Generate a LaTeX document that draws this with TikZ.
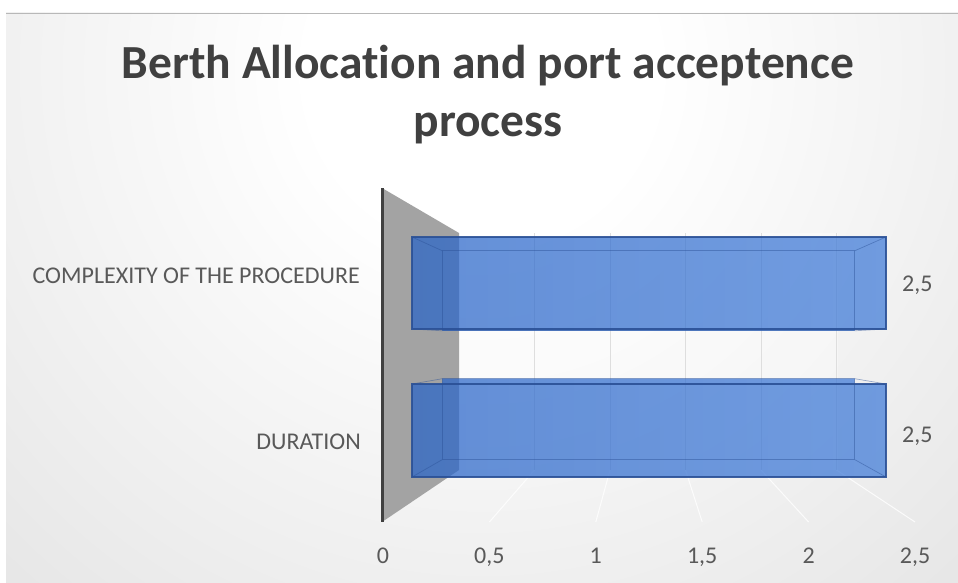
\documentclass[tikz,border=0pt]{standalone}
\usepackage{fontspec}
\setmainfont{Carlito}[Ligatures=NoCommon]
\usetikzlibrary{calc}
\definecolor{txt}{HTML}{595959}
\definecolor{titletxt}{HTML}{404040}
\definecolor{barL}{RGB}{40,100,200}
\definecolor{barR}{RGB}{62,122,216}
\definecolor{baredge}{RGB}{42,80,150}
\definecolor{wallgray}{RGB}{163,163,163}
\definecolor{bgedge}{RGB}{196,196,196}
\pgfdeclareradialshading{bgshade}{\pgfpoint{0bp}{0bp}}{color(0bp)=(white); color(6bp)=(white); color(50bp)=(bgedge)}
\tikzset{
  lbl/.style={text=txt, font=\fontsize{24}{28}\selectfont, inner sep=0pt},
  ttl/.style={text=titletxt, font=\fontsize{47.5}{56}\selectfont\bfseries, inner sep=0pt, anchor=base},
  barfill/.style={left color=barL, right color=barR, fill opacity=0.72, draw=none},
  frontedge/.style={draw=baredge, line width=1.3pt, draw opacity=0.9},
  backedge/.style={draw=baredge, line width=0.7pt, draw opacity=0.45},
  gridback/.style={draw=black!13, line width=0.8pt},
  gridfloor/.style={draw=white, line width=1pt, draw opacity=0.8}
}
\newcommand{\mybar}[8]{%
  % #1..#4 front x1,y1,x2,y2 ; #5..#8 back x1,y1,x2,y2
  \shade[barfill] (#1,#2) rectangle (#3,#4) (#5,#6) rectangle (#7,#8);
  \draw[backedge] (#5,#6) rectangle (#7,#8);
  \draw[backedge] (#1,#2) -- (#5,#6) (#3,#2) -- (#7,#6) (#1,#4) -- (#5,#8) (#3,#4) -- (#7,#8);
  \draw[frontedge] (#1,#2) rectangle (#3,#4);
}
\begin{document}
\begin{tikzpicture}[x=1pt,y=-1pt]
\useasboundingbox (0,0) rectangle (958,583);
\fill[white] (0,0) rectangle (958,583);
\begin{scope}
  \clip (6,13) rectangle (958,583);
  \shade[shading=bgshade] (482,70) circle (720pt);
\end{scope}
\draw[black!28, line width=1.2pt] (6,13.6) -- (958,13.6);

% title
\node[ttl] (t1) at (488,79) {Berth Allocation and port acceptence};
\node[ttl] (t2) at (488,137) {process};

% back wall
\fill[white, fill opacity=0.35] (459,233) rectangle (837.5,470);
\foreach \v in {0.5,1,1.5,2,2.5}{
  \draw[gridback] ({459+151*\v},233) -- ({459+151*\v},470);
}
% floor grid lines
\foreach \v in {0.5,1,1.5,2,2.5}{
  \draw[gridfloor] ({459+151*\v},470) -- ({383+212.8*\v},522);
}

% side wall
\fill[wallgray] (382,188) -- (459,233) -- (459,470) -- (382,522) -- cycle;
\coordinate (axtop) at (382,188);
\coordinate (axbot) at (382,522);
\draw[black!75, line width=3pt] (axtop) -- (axbot);

% bars
\mybar{412}{237}{886}{329}{442.3}{250.8}{854.7}{330.8}
\mybar{412}{384}{886}{477}{442.3}{378.7}{854.7}{459.6}

% category labels
\node[lbl, anchor=base east] (c1) at (360,283) {COMPLEXITY OF THE PROCEDURE};
\node[lbl, anchor=base east] (c2) at (361,449) {DURATION};

% value labels
\node[lbl, anchor=base west] (v1) at (902,291) {2,5};
\node[lbl, anchor=base west] (v2) at (902,442) {2,5};

% axis labels
\foreach \k/\t in {0/0,1/{0,5},2/1,3/{1,5},4/2,5/{2,5}}{
  \node[lbl, anchor=base] (ax\k) at ({383+106.4*\k},563) {\t};
}
\end{tikzpicture}
\end{document}
